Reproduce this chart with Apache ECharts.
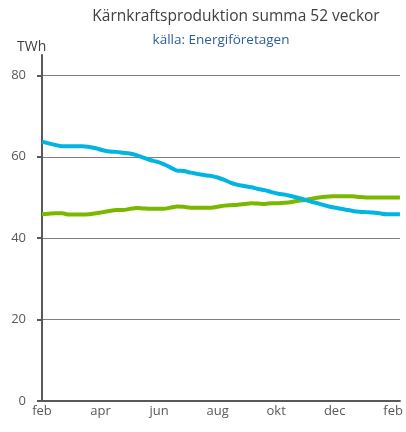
<!DOCTYPE html>
<html><head><meta charset="utf-8">
<script src="https://cdn.jsdelivr.net/npm/echarts@6/dist/echarts.min.js"></script>
<style>html,body{margin:0;padding:0;background:#fff}#c{width:406px;height:432px}</style>
</head><body><div id="c"></div>
<script>
const monthLabels = ['feb','apr','jun','aug','okt','dec','feb'];
const yTicks = [0,20,40,60,80];
const weeksPerLabel = 52/6;
const blueValues = [63.7,63.3,62.9,62.6,62.6,62.6,62.6,62.4,62.1,61.6,61.3,61.2,61.0,60.8,60.4,59.8,59.2,58.8,58.2,57.4,56.6,56.5,56.1,55.8,55.5,55.3,54.9,54.3,53.6,53.1,52.8,52.5,52.1,51.8,51.3,50.9,50.7,50.3,49.9,49.4,48.9,48.5,48.0,47.6,47.3,47.0,46.7,46.5,46.4,46.3,46.1,45.9,45.9,45.9];
const greenValues = [45.9,46.0,46.1,46.1,45.8,45.8,45.8,45.9,46.1,46.4,46.7,46.9,46.9,47.2,47.4,47.3,47.2,47.2,47.2,47.5,47.8,47.7,47.5,47.5,47.5,47.5,47.7,48.0,48.1,48.2,48.4,48.6,48.5,48.4,48.6,48.6,48.7,48.9,49.2,49.4,49.7,50.0,50.2,50.3,50.3,50.3,50.3,50.1,50.0,50.0,50.0,50.0,50.0,50.0];

const toPairs = arr => arr.map((v,i)=>[i,v]);
const FONT = 'Open Sans';
const chart = echarts.init(document.getElementById('c'), null, {renderer:'canvas'});
chart.setOption({
  animation:false,
  backgroundColor:'#fff',
  title:[
    {text:'Kärnkraftsproduktion summa 52 veckor', left:231, top:4, textAlign:'center',
     textStyle:{fontFamily:FONT,fontSize:15.5,fontWeight:'normal',color:'#404040'}},
    {text:'källa: Energiföretagen', left:216, top:28, textAlign:'center',
     textStyle:{fontFamily:FONT,fontSize:13.5,fontWeight:'normal',color:'#2F5C97'}},
    {text:'TWh', left:12, top:35,
     textStyle:{fontFamily:FONT,fontSize:14,fontWeight:'normal',color:'#404040'}}
  ],
  grid:{left:42,right:6,top:55,bottom:31,containLabel:false},
  xAxis:{type:'value',min:0,max:53,interval:weeksPerLabel,
    axisLine:{show:true,lineStyle:{color:'#595959',width:2}},
    axisTick:{show:false},
    splitLine:{show:false},
    axisLabel:{fontFamily:FONT,fontSize:13,color:'#595959',margin:4,showMaxLabel:false,
      formatter:v=>{const k=Math.round(v/weeksPerLabel);return Math.abs(k*weeksPerLabel-v)<0.01?(monthLabels[k]||''):'';}}
  },
  yAxis:{type:'value',min:0,max:85,interval:20,
    axisLine:{show:true,lineStyle:{color:'#595959',width:2}},
    axisTick:{show:true,length:5,customValues:yTicks,lineStyle:{color:'#595959',width:2}},
    axisLabel:{fontFamily:FONT,fontSize:13,color:'#595959',margin:16,customValues:yTicks},
    splitLine:{show:true,lineStyle:{color:'#7f7f7f',width:1}}
  },
  series:[
    {type:'line',data:toPairs(blueValues),showSymbol:false,symbol:'none',smooth:0.3,
     lineStyle:{color:'#00B5E2',width:4},z:3},
    {type:'line',data:toPairs(greenValues),showSymbol:false,symbol:'none',smooth:0.3,
     lineStyle:{color:'#7AB800',width:4},z:2}
  ]
});
</script></body></html>
